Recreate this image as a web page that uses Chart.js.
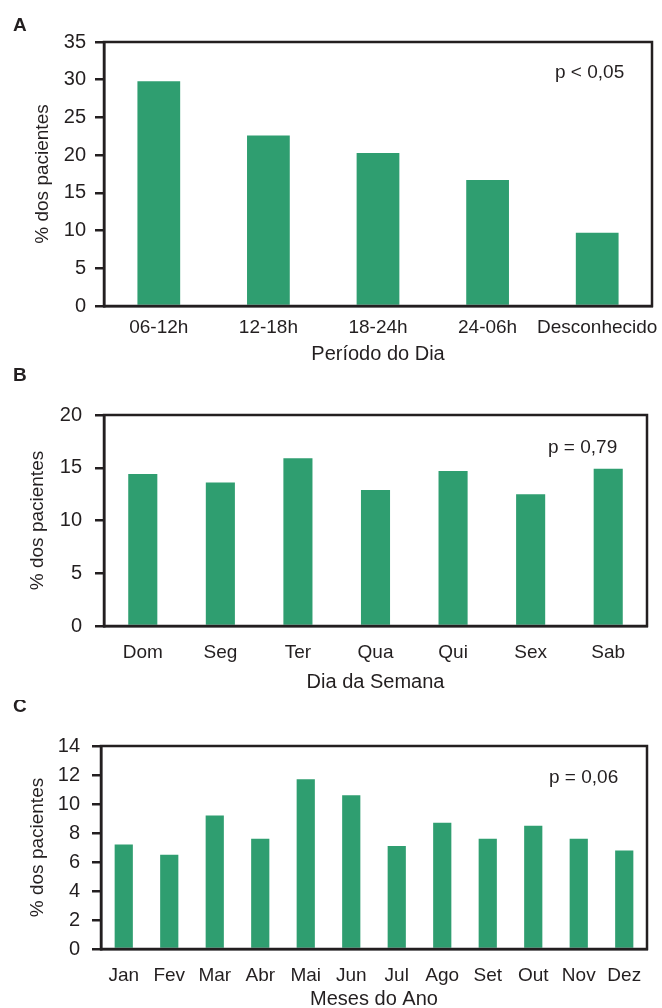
<!DOCTYPE html>
<html><head><meta charset="utf-8">
<script src="https://cdn.jsdelivr.net/npm/chart.js@4"></script>
<style>
html,body{margin:0;padding:0;background:#fff;width:662px;height:1008px;overflow:hidden;}
.panel{position:absolute;left:0;width:662px;}
</style></head><body>
<div class="panel" style="top:0px"><canvas id="cA" width="662" height="366"></canvas></div>
<div class="panel" style="top:360px"><canvas id="cB" width="662" height="334"></canvas></div>
<div class="panel" style="top:700px"><canvas id="cC" width="662" height="311"></canvas></div>
<script>
// ---- data ----
const periodLabels = ['06-12h', '12-18h', '18-24h', '24-06h', 'Desconhecido'];
const periodValues = [29.8, 22.6, 20.3, 16.7, 9.7];
const dayLabels = ['Dom', 'Seg', 'Ter', 'Qua', 'Qui', 'Sex', 'Sab'];
const dayValues = [14.4, 13.6, 15.9, 12.9, 14.7, 12.5, 14.9];
const monthLabels = ['Jan', 'Fev', 'Mar', 'Abr', 'Mai', 'Jun', 'Jul', 'Ago', 'Set', 'Out', 'Nov', 'Dez'];
const monthValues = [7.2, 6.5, 9.2, 7.6, 11.7, 10.6, 7.1, 8.7, 7.6, 8.5, 7.6, 6.8];
const yMaxA = 35, yStepA = 5;
const yMaxB = 20, yStepB = 5;
const yMaxC = 14, yStepC = 2;
const yTitle = '% dos pacientes';
const xTitleA = 'Período do Dia';
const xTitleB = 'Dia da Semana';
const xTitleC = 'Meses do Ano';
const pTextA = 'p < 0,05';
const pTextB = 'p = 0,79';
const pTextC = 'p = 0,06';

const GREEN = '#2f9e70';
const INK = '#231f20';
const FONT = "'Liberation Sans', Arial, sans-serif";

const framePlugin = {
  id: 'frame',
  afterDraw(chart, args, o) {
    const {ctx, chartArea: a} = chart;
    ctx.save();
    ctx.strokeStyle = INK;
    ctx.lineWidth = 2.5;
    ctx.strokeRect(a.left, a.top, a.right - a.left, a.bottom - a.top);
    ctx.fillStyle = INK;
    ctx.textBaseline = 'alphabetic';
    ctx.textAlign = 'left';
    ctx.font = "bold 19px 'Liberation Sans', Arial, sans-serif";
    ctx.fillText(o.letter, 13, o.letterY);
    ctx.font = "19px 'Liberation Sans', Arial, sans-serif";
    ctx.fillText(o.p, o.pX, o.pY);
    ctx.restore();
  }
};

function makeChart(id, labels, values, c) {
  return new Chart(document.getElementById(id), {
    type: 'bar',
    data: {labels: labels, datasets: [{data: values, backgroundColor: GREEN, borderWidth: 0,
      categoryPercentage: 1, barPercentage: c.barPct}]},
    options: {
      responsive: false, animation: false,
      layout: {padding: {top: c.top, right: c.right, left: 0, bottom: 0}},
      plugins: {legend: {display: false}, tooltip: {enabled: false},
        frame: {letter: c.letter, letterY: c.letterY, p: c.p, pX: c.pX, pY: c.pY}},
      scales: {
        x: {
          grid: {display: false, drawTicks: false},
          border: {display: true, color: INK, width: 2.5},
          ticks: {color: INK, font: {family: FONT, size: 19}, padding: c.xPad, maxRotation: 0, autoSkip: false},
          title: {display: true, text: c.xTitle, color: INK, font: {family: FONT, size: 20}, padding: {top: 0, bottom: 0}},
          afterFit: s => { s.height = c.xH; s.paddingLeft = 0; s.paddingRight = 0; }
        },
        y: {
          min: 0, max: c.yMax,
          grid: {display: true, drawOnChartArea: false, drawTicks: true, tickLength: 9, color: INK, lineWidth: 2.5},
          border: {display: true, color: INK, width: 2.5},
          ticks: {stepSize: c.yStep, autoSkip: false, color: INK, font: {family: FONT, size: 20}, padding: c.yPad},
          title: {display: true, text: yTitle, color: INK, font: {family: FONT, size: 19}, padding: {top: c.yTitlePad, bottom: 0}},
          afterFit: s => { s.width = c.yW; }
        }
      }
    },
    plugins: [framePlugin]
  });
}

makeChart('cA', periodLabels, periodValues, {
  barPct: 0.39, top: 42, right: 10, yMax: yMaxA, yStep: yStepA, xTitle: xTitleA,
  xH: 60, yW: 104, xPad: 10, yPad: 9, yTitlePad: 31,
  letter: 'A', letterY: 31, p: pTextA, pX: 555, pY: 78
});
makeChart('cB', dayLabels, dayValues, {
  barPct: 0.375, top: 55, right: 15, yMax: yMaxB, yStep: yStepB, xTitle: xTitleB,
  xH: 68, yW: 104, xPad: 15, yPad: 13, yTitlePad: 26,
  letter: 'B', letterY: 21, p: pTextB, pX: 548, pY: 93
});
makeChart('cC', monthLabels, monthValues, {
  barPct: 0.4, top: 46, right: 15, yMax: yMaxC, yStep: yStepC, xTitle: xTitleC,
  xH: 62, yW: 101, xPad: 15, yPad: 12, yTitlePad: 26,
  letter: 'C', letterY: 12, p: pTextC, pX: 549, pY: 83
});
</script>
</body></html>
